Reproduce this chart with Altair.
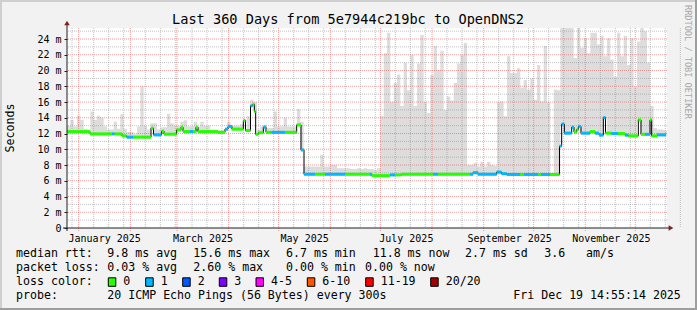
import altair as alt
import pandas as pd
import numpy as np

# ---------------- data ----------------
START = pd.Timestamp("2024-12-25 05:00:00", tz="UTC")
SPAN_DAYS = 360

# median RTT (ms) as steps: start (days after START), value, loss class (0 or 1 lost ping)
med_day = [0.0, 13.8, 27.0, 28.5, 33.0, 35.8, 39.6, 50.4, 51.9, 56.8,
           58.2, 65.8, 68.4, 69.6, 73.8, 75.6, 77.4, 78.6, 90.6, 94.8,
           96.6, 99.0, 105.8, 107.1, 110.1, 111.3, 112.4, 113.2, 114.8, 117.8,
           119.4, 122.8, 130.8, 137.8, 140.4, 142.2, 148.8, 154.8, 166.8, 181.8,
           183.0, 193.8, 196.8, 200.8, 219.6, 222.6, 241.8, 243.6, 246.6, 257.8,
           260.8, 263.8, 271.8, 274.2, 282.6, 284.4, 289.8, 295.5, 296.8, 298.4,
           302.8, 304.2, 305.8, 306.8, 308.4, 313.8, 316.8, 319.2, 321.8, 323.1,
           326.8, 330.6, 334.8, 336.8, 342.8, 344.4, 346.8, 349.8, 350.8, 354.0]
med_ms = [12.25, 11.96, 11.96, 11.96, 11.7, 11.54, 11.54, 12.68, 11.83, 12.3,
          11.92, 12.47, 12.8, 12.25, 12.25, 12.25, 12.8, 12.25, 12.15, 12.55,
          12.9, 12.56, 13.65, 12.38, 15.52, 15.7, 14.8, 11.9, 12.1, 12.8,
          12.15, 12.15, 12.15, 13.1, 9.92, 6.83, 6.83, 6.83, 6.83, 6.83,
          6.65, 6.75, 6.75, 6.83, 6.83, 6.83, 6.83, 7.03, 6.83, 7.1,
          6.9, 6.8, 6.8, 6.8, 6.8, 6.8, 6.8, 10.4, 13.2, 12.05,
          12.8, 12.2, 12.5, 12.9, 12.05, 12.25, 12.05, 11.8, 14.03, 12.05,
          12.0, 12.0, 11.8, 11.7, 13.74, 11.9, 11.9, 13.74, 11.7, 11.83]
med_loss = [0, 0, 1, 0, 0, 1, 0, 0, 1, 0,
            0, 0, 0, 0, 1, 0, 0, 0, 0, 1,
            1, 0, 0, 0, 1, 0, 0, 0, 0, 1,
            0, 1, 0, 0, 1, 1, 0, 1, 0, 1,
            0, 1, 0, 0, 1, 0, 1, 1, 1, 1,
            1, 1, 0, 1, 0, 1, 0, 1, 1, 1,
            1, 0, 0, 1, 1, 0, 1, 1, 1, 0,
            1, 0, 1, 0, 0, 0, 1, 0, 0, 1]
MED_END_DAY = 359.4

# smoke (upper edge of the ping spread, ms), one value per 2-day bin
SMOKE_BIN = 2
smoke_top = [13.0, 13.74, 12.9, 14.25, 13.74, 12.6, 12.5, 14.8, 13.74, 14.25,
             14.0, 12.9, 12.5, 12.5, 13.5, 12.6, 14.46, 12.6, 12.2, 12.2,
             11.9, 12.9, 18.0, 13.0, 12.5, 13.3, 13.3, 12.5, 12.8, 12.8,
             14.5, 13.3, 13.0, 13.0, 13.5, 13.7, 12.9, 12.9, 13.5, 12.9,
             13.5, 13.0, 13.0, 12.4, 12.4, 12.4, 12.4, 12.6, 13.5, 13.0,
             13.0, 13.0, 13.2, 13.7, 14.2, 16.3, 16.0, 12.5, 12.9, 13.1,
             12.7, 12.7, 14.8, 12.9, 12.9, 14.0, 12.9, 12.9, 12.9, 15.1,
             13.5, 7.8, 7.8, 7.8, 7.8, 7.8, 9.3, 7.8, 7.8, 8.0,
             8.0, 7.6, 7.6, 7.6, 7.6, 7.5, 7.5, 7.6, 7.5, 7.6,
             7.5, 7.5, 7.4, 7.6, 14.2, 22.2, 24.8, 16.0, 18.4, 19.5,
             15.5, 21.0, 17.5, 22.0, 15.5, 20.9, 24.5, 16.0, 14.6, 19.4,
             23.1, 20.1, 22.5, 15.0, 16.7, 16.2, 18.4, 20.9, 22.0, 23.5,
             8.0, 8.0, 8.3, 7.8, 8.4, 7.8, 8.4, 8.0, 7.9, 16.0,
             16.1, 14.2, 21.8, 19.7, 19.7, 20.3, 17.8, 18.8, 17.6, 19.0,
             16.3, 20.7, 16.1, 23.1, 16.0, 7.0, 17.6, 17.5, 25.4, 25.4,
             25.4, 25.4, 21.6, 25.4, 22.9, 24.1, 22.2, 24.8, 24.8, 23.3,
             24.4, 21.8, 24.1, 21.4, 19.2, 24.8, 21.8, 24.4, 20.7, 24.1,
             17.9, 23.7, 25.4, 25.0, 21.0, 15.5, 12.7, 12.5, 12.5, 12.4]

# axis ticks / labels
y_ticks = list(range(0, 25, 2))
y_minor = list(range(1, 26, 2))
label_months = ["2025-01-16", "2025-03-16", "2025-05-16", "2025-07-16", "2025-09-16", "2025-11-16"]
month_starts = ["2025-%02d-01" % m for m in range(1, 13)]
minor_x = ["2024-12-28"] + ["2025-%02d-%02d" % (m, d) for m in range(1, 13) for d in (10, 19, 28)]

# legend / text content
title = "Last 360 Days from 5e7944c219bc to OpenDNS2"
row1 = ["median rtt:", "9.8 ms avg", "15.6 ms max", "6.7 ms min", "11.8 ms now", "2.7 ms sd", "3.6", "am/s"]
row2 = ["packet loss:", "0.03 % avg", "2.60 % max", "0.00 % min", "0.00 % now"]
row3_head = "loss color:"
loss_labels = ["0", "1", "2", "3", "4-5", "6-10", "11-19", "20/20"]
loss_colors = ["#26ff00", "#00b8ff", "#0059ff", "#7e00ff", "#ff00ff", "#ff5500", "#ff0000", "#a10000"]
row4 = ["probe:", "20 ICMP Echo Pings (56 Bytes) every 300s", "Fri Dec 19 14:55:14 2025"]

# ---------------- layout ----------------
W, H = 600, 200
PAD_L, PAD_T = 67, 28
YMAX = 25.4
FONT = "DejaVu Sans Mono"
BG = "#f2f2f2"

row1_x = [16, 107.3, 193.3, 286, 372.7, 465, 544.3, 586]
row2_x = [16, 107.3, 193.3, 286, 365]
row4_x = [16, 107.3, 513.3]
box_x = [108.3, 145.7, 182.7, 219.3, 256, 307.3, 365.7, 430.7]
row_y = [254.3, 268.3, 282.3, 296.3]


def tms(s):
    return int(pd.Timestamp(s, tz="UTC").timestamp() * 1000)


def day_ms(d):
    return int((START + pd.Timedelta(days=float(d))).timestamp() * 1000)


xs = alt.Scale(type="utc", domain=[day_ms(0), day_ms(SPAN_DAYS)])
ys = alt.Scale(domain=[0, YMAX], nice=False, zero=True)

AX_X = alt.Axis(values=[tms(d + " 12:00") for d in label_months],
                labelExpr="utcFormat(datum.value, '%B %Y')",
                grid=False, domain=False, ticks=False, labelFont=FONT, labelFontSize=10, title=None,
                labelColor="#000", labelPadding=5, labelFlush=False, labelOverlap=False)
AX_Y = alt.Axis(values=y_ticks, labelExpr="datum.value == 0 ? '0' : datum.value + ' m'", title=None,
                grid=False, domain=False, ticks=True, tickSize=3, tickColor="#1f1f1f",
                labelFont=FONT, labelFontSize=10, labelColor="#000", labelPadding=3)


def X(f):
    return alt.X(f, type="temporal", scale=xs, axis=AX_X, title=None)


def Y(f):
    return alt.Y(f, type="quantitative", scale=ys, axis=AX_Y, title=None)


# median segments
ends = med_day[1:] + [MED_END_DAY]
seg = pd.DataFrame({
    "t0": [day_ms(d) for d in med_day],
    "t1": [day_ms(d) for d in ends],
    "v": med_ms,
    "col": [loss_colors[l] for l in med_loss],
})
line_df = pd.DataFrame({
    "t": [day_ms(d) for d in med_day] + [day_ms(MED_END_DAY)],
    "v": med_ms + [med_ms[-1]],
})

# smoke area (lower edge follows the median)
med_day_arr = np.array(med_day)
lo = []
for i in range(len(smoke_top)):
    c = SMOKE_BIN * i + SMOKE_BIN / 2
    k = max(0, np.searchsorted(med_day_arr, c, side="right") - 1)
    lo.append(med_ms[k] - 0.2)
sm_t = [day_ms(SMOKE_BIN * i) for i in range(len(smoke_top))] + [day_ms(MED_END_DAY + 0.5)]
smoke_df = pd.DataFrame({"t": sm_t, "hi": smoke_top + [smoke_top[-1]], "lo": lo + [lo[-1]]})

smoke = alt.Chart(smoke_df).mark_area(interpolate="step-after", color="#dddddd", opacity=1).encode(
    x=X("t"), y=Y("lo"), y2="hi")

GRID_GRAY = dict(color="#8f8f8f", opacity=0.55, strokeDash=[1, 1], strokeWidth=1)
GRID_RED = dict(color="#de4f4f", opacity=0.55, strokeDash=[1, 1], strokeWidth=1)

minor_y = alt.Chart(pd.DataFrame({"v": y_minor})).mark_rule(**GRID_GRAY).encode(y=Y("v"))
major_y = alt.Chart(pd.DataFrame({"v": y_ticks[1:]})).mark_rule(**GRID_RED).encode(y=Y("v"))
minor_xr = alt.Chart(pd.DataFrame({"t": [tms(d + " 05:00") for d in minor_x]})).mark_rule(**GRID_GRAY).encode(
    x=X("t"), y=alt.value(0), y2=alt.value(H))
major_xr = alt.Chart(pd.DataFrame({"t": [tms(d + " 05:00") for d in month_starts]})).mark_rule(**GRID_RED).encode(
    x=X("t"), y=alt.value(0), y2=alt.value(H + 3))

med_line = alt.Chart(line_df).mark_line(interpolate="step-after", color="#000000", strokeWidth=1).encode(
    x=X("t"), y=Y("v"))
med_seg = alt.Chart(seg).mark_rule(strokeWidth=3, strokeCap="butt").encode(
    x=X("t0"), x2="t1", y=Y("v"), color=alt.Color("col:N", scale=None))

one = pd.DataFrame({"a": [0]})

# axis lines and arrows
yaxis_line = alt.Chart(one).mark_rule(color="#1f1f1f", strokeWidth=1).encode(
    x=alt.value(0), y=alt.value(-5), y2=alt.value(H + 3))
xaxis_line = alt.Chart(one).mark_rule(color="#1f1f1f", strokeWidth=1).encode(
    y=alt.value(H), x=alt.value(-4), x2=alt.value(W + 2))
arrow_up = alt.Chart(one).mark_point(shape="triangle-up", filled=True, color="#801f1f", size=30, opacity=1).encode(
    x=alt.value(0), y=alt.value(-5))
arrow_right = alt.Chart(one).mark_point(shape="triangle-right", filled=True, color="#801f1f", size=30, opacity=1).encode(
    x=alt.value(W + 4), y=alt.value(H))

layers = [smoke, minor_y, major_y, minor_xr, major_xr, med_line, med_seg,
          yaxis_line, xaxis_line, arrow_up, arrow_right]


def txt(s, px, py, size=11.6, align="left", angle=0, color="#000", baseline="middle"):
    kw = dict(text=s, font=FONT, fontSize=size, align=align, baseline=baseline, color=color)
    if angle:
        kw["angle"] = angle
    return alt.Chart(one).mark_text(**kw).encode(x=alt.value(px - PAD_L), y=alt.value(py - PAD_T))


layers.append(txt(title, 348, 19.5, size=13.6, align="center"))
layers.append(txt("Seconds", 10.5, 128, size=11.6, align="center", angle=270))
layers.append(txt("RRDTOOL / TOBI OETIKER", 688, 5, size=8.6, align="left", angle=90, color="#a8a8a8"))
for s, px in zip(row1, row1_x):
    layers.append(txt(s, px, row_y[0]))
for s, px in zip(row2, row2_x):
    layers.append(txt(s, px, row_y[1]))
layers.append(txt(row3_head, 16, row_y[2]))
for lab, col, bx in zip(loss_labels, loss_colors, box_x):
    layers.append(alt.Chart(one).mark_rect(color=col, stroke="#000", strokeWidth=1).encode(
        x=alt.value(bx - PAD_L), x2=alt.value(bx + 7.5 - PAD_L),
        y=alt.value(row_y[2] - 4.5 - PAD_T), y2=alt.value(row_y[2] + 4 - PAD_T)))
    layers.append(txt(lab, bx + 15, row_y[2]))
for s, px in zip(row4, row4_x):
    layers.append(txt(s, px, row_y[3]))

# 3D frame
frame = [
    (0, 0, 697, 2, "#cfcfcf"), (0, 0, 2, 310, "#cfcfcf"),
    (695, 0, 697, 310, "#9e9e9e"), (0, 308, 697, 310, "#9e9e9e"),
]
for x0, y0, x1, y1, c in frame:
    layers.append(alt.Chart(one).mark_rect(color=c).encode(
        x=alt.value(x0 - PAD_L), x2=alt.value(x1 - PAD_L), y=alt.value(y0 - PAD_T), y2=alt.value(y1 - PAD_T)))

chart = alt.layer(*layers).properties(
    width=W, height=H,
    padding={"left": PAD_L, "top": PAD_T, "right": 697 - PAD_L - W, "bottom": 310 - PAD_T - H},
    autosize=alt.AutoSizeParams(type="none"),
    background=BG,
).configure_view(fill="#ffffff", stroke=None)

chart.save("out.html", embed_options={"renderer": "svg", "actions": False})
